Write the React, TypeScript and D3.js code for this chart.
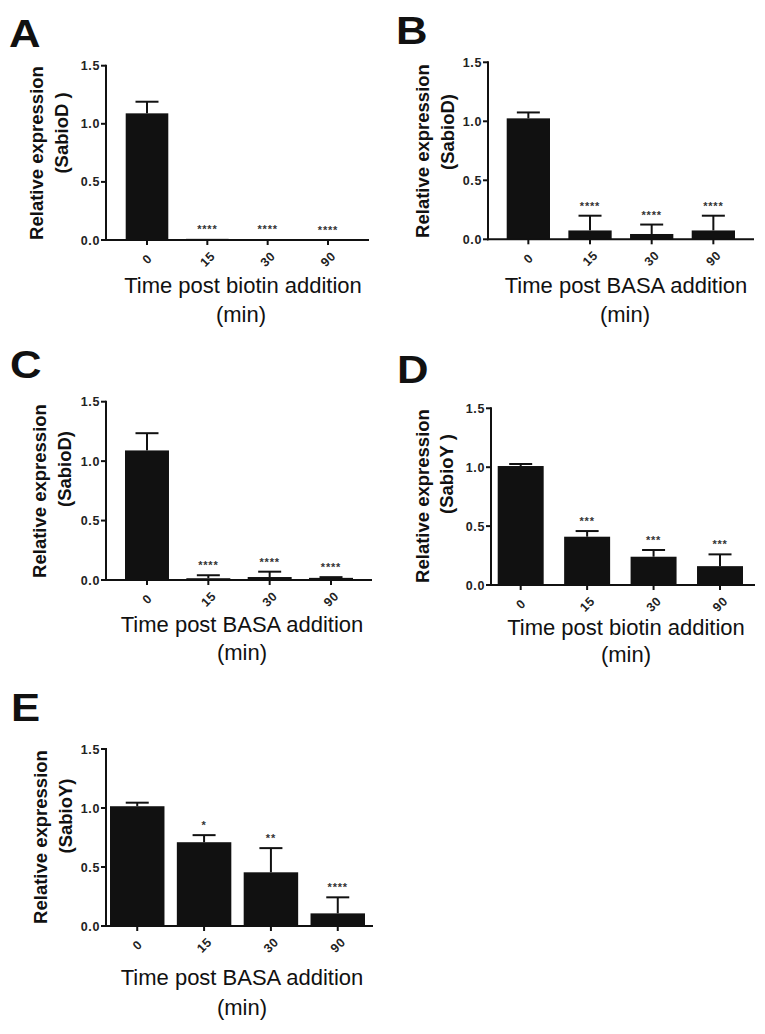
import React from "react";
import * as d3 from "d3";

const categories = ["0", "15", "30", "90"];
const yTicks = [0, 0.5, 1.0, 1.5];

const meanA = [1.09, 0.01, 0.006, 0.004];
const errA = [0.1, 0, 0, 0];
const starsA = ["", "****", "****", "****"];

const meanB = [1.025, 0.075, 0.045, 0.075];
const errB = [0.05, 0.125, 0.08, 0.125];
const starsB = ["", "****", "****", "****"];

const meanC = [1.09, 0.015, 0.025, 0.018];
const errC = [0.145, 0.025, 0.045, 0.006];
const starsC = ["", "****", "****", "****"];

const meanD = [1.01, 0.41, 0.24, 0.16];
const errD = [0.017, 0.048, 0.057, 0.1];
const starsD = ["", "***", "***", "***"];

const meanE = [1.015, 0.71, 0.455, 0.107];
const errE = [0.03, 0.06, 0.205, 0.136];
const starsE = ["", "*", "**", "****"];

const letters = ["A", "B", "C", "D", "E"];
const geneLabels = ["(SabioD )", "(SabioD)", "(SabioD)", "(SabioY )", "(SabioY)"];
const xTitles = [
  "Time post biotin addition",
  "Time post BASA addition",
  "Time post BASA addition",
  "Time post biotin addition",
  "Time post BASA addition",
];

const FONT = "'Liberation Sans', Arial, Helvetica, sans-serif";

type Layout = {
  letter: [number, number];
  ax: number;
  y0: number;
  yTop: number;
  xEnd: number;
  barL: number;
  barR: number;
  pad: number;
  yl1: [number, number];
  yl2: [number, number];
  xt: [number, number];
  xt2: [number, number];
};

const layouts: Layout[] = [
  { letter: [9, 47], ax: 106, y0: 240, yTop: 65.7, xEnd: 369, barL: 125.7, barR: 349.3, pad: 0.294, yl1: [37, 153], yl2: [62, 133], xt: [243, 293], xt2: [241, 322] },
  { letter: [396, 44], ax: 488, y0: 239.3, yTop: 62.3, xEnd: 754, barL: 506.7, barR: 735, pad: 0.298, yl1: [423, 151], yl2: [448, 132], xt: [626, 293], xt2: [625, 322] },
  { letter: [10, 378], ax: 106, y0: 580, yTop: 401.7, xEnd: 372, barL: 125, barR: 353, pad: 0.283, yl1: [40, 491], yl2: [65, 469], xt: [242, 632], xt2: [242, 660] },
  { letter: [397, 383], ax: 491, y0: 585, yTop: 408.3, xEnd: 755, barL: 497.7, barR: 743, pad: 0.308, yl1: [423, 496], yl2: [447, 474], xt: [626, 635], xt2: [626, 662] },
  { letter: [11, 721], ax: 106, y0: 926, yTop: 749, xEnd: 373, barL: 110, barR: 365, pad: 0.185, yl1: [41, 837], yl2: [66, 816], xt: [242, 985], xt2: [242, 1015] },
];

const means = [meanA, meanB, meanC, meanD, meanE];
const errs = [errA, errB, errC, errD, errE];
const stars = [starsA, starsB, starsC, starsD, starsE];

function Panel({ idx }: { idx: number }) {
  const L = layouts[idx];
  const mean = means[idx];
  const err = errs[idx];
  const st = stars[idx];
  const y = d3.scaleLinear().domain([0, 1.5]).range([L.y0, L.yTop]);
  const x = d3
    .scaleBand<string>()
    .domain(categories)
    .range([L.barL, L.barR])
    .paddingInner(L.pad)
    .paddingOuter(0);
  const bw = x.bandwidth();
  const fmt = d3.format(".1f");
  const capHalf = 11.5;
  return (
    <g fontFamily={FONT}>
      <text
        transform={`translate(${L.letter[0]},${L.letter[1]}) scale(1.12,1)`}
        fontSize={39}
        fontWeight="bold"
        fill="#111"
      >
        {letters[idx]}
      </text>
      {categories.map((c, i) => {
        const cx = (x(c) as number) + bw / 2;
        const top = y(mean[i]);
        const et = y(mean[i] + err[i]);
        return (
          <g key={c}>
            <rect x={x(c)} y={top} width={bw} height={Math.max(L.y0 - top, 0)} fill="#111" />
            {err[i] > 0 && (
              <g stroke="#111" strokeWidth={2}>
                <line x1={cx} x2={cx} y1={top} y2={et} />
                <line x1={cx - capHalf} x2={cx + capHalf} y1={et} y2={et} />
              </g>
            )}
            {st[i] && (
              <text
                x={cx}
                y={et - 13 + 7}
                textAnchor="middle"
                fontSize={11}
                fontWeight="bold"
                letterSpacing={0.8}
                fill="#333"
              >
                {st[i]}
              </text>
            )}
          </g>
        );
      })}
      <line x1={L.ax} x2={L.ax} y1={L.yTop - 1} y2={L.y0 + 1} stroke="#111" strokeWidth={2} />
      {yTicks.map((t) => (
        <g key={t}>
          <line x1={L.ax - 5} x2={L.ax} y1={y(t)} y2={y(t)} stroke="#111" strokeWidth={2} />
          <text
            x={L.ax - 6}
            y={y(t)}
            dy="0.36em"
            textAnchor="end"
            fontSize={12.5}
            fontWeight="bold"
            letterSpacing={0.6}
            fill="#222"
          >
            {fmt(t)}
          </text>
        </g>
      ))}
      <line x1={L.ax - 1} x2={L.xEnd} y1={L.y0} y2={L.y0} stroke="#111" strokeWidth={2} />
      {categories.map((c) => {
        const cx = (x(c) as number) + bw / 2;
        return (
          <g key={"t" + c}>
            <line x1={cx} x2={cx} y1={L.y0} y2={L.y0 + 5} stroke="#111" strokeWidth={2} />
            <text
              transform={`translate(${cx},${L.y0 + 19}) rotate(-45)`}
              textAnchor="middle"
              dy="0.36em"
              fontSize={12.5}
              fontWeight="bold"
              letterSpacing={0.6}
              fill="#222"
            >
              {c}
            </text>
          </g>
        );
      })}
      <text
        transform={`translate(${L.yl1[0]},${L.yl1[1]}) rotate(-90)`}
        textAnchor="middle"
        dy="0.35em"
        fontSize={18.5}
        fontWeight="bold"
        fill="#111"
      >
        Relative expression
      </text>
      <text
        transform={`translate(${L.yl2[0]},${L.yl2[1]}) rotate(-90)`}
        textAnchor="middle"
        dy="0.35em"
        fontSize={18.5}
        fontWeight="bold"
        fill="#111"
      >
        {geneLabels[idx]}
      </text>
      <text x={L.xt[0]} y={L.xt[1]} textAnchor="middle" fontSize={22} fill="#111">
        {xTitles[idx]}
      </text>
      <text x={L.xt2[0]} y={L.xt2[1]} textAnchor="middle" fontSize={22} fill="#111">
        (min)
      </text>
    </g>
  );
}

export default function App() {
  return (
    <svg
      width={765}
      height={1034}
      style={{ position: "absolute", left: 0, top: 0, background: "#fff" }}
    >
      <rect width={765} height={1034} fill="#fff" />
      {layouts.map((_, i) => (
        <Panel key={i} idx={i} />
      ))}
    </svg>
  );
}
